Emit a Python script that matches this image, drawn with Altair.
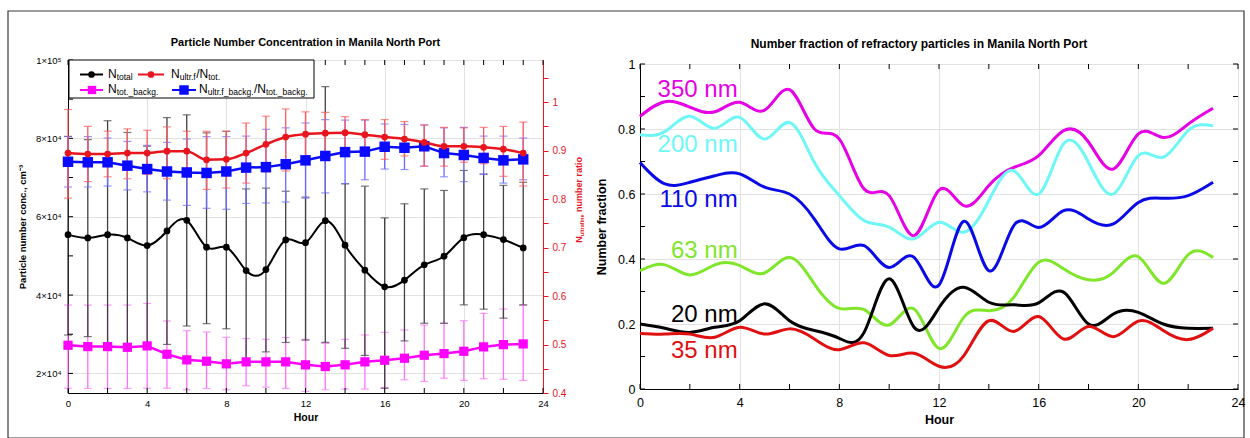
import altair as alt
import pandas as pd

FONT = "Liberation Sans"

# ---------------- data: left panel (hourly means and error-bar ends) ----------------
hours = list(range(24))

n_total = [55420, 54580, 55420, 54580, 52620, 56360, 59080, 52210, 52210, 46260, 46510, 54070,
           53380, 58980, 52720, 46350, 42110, 43810, 47710, 49920, 54660, 55420, 54150, 52030]
n_total_up = [80500, 79700, 84500, 81500, 78000, 85300, 86000, 81400, 81800, 67100, 67300, 66500,
              65000, 93200, 68400, 67800, 59700, 63300, 67100, 66700, 71800, 70900, 68000, 68800]
n_total_lo = [29800, 29400, 26800, 27600, 27700, 27400, 32100, 32700, 31400, 23500, 25500, 27900,
              28500, 27900, 26400, 24600, 16200, 28300, 32800, 32800, 37500, 36400, 34100, 37500]

n_backg = [27180, 26840, 26840, 26670, 27020, 24890, 23460, 23110, 22440, 22950, 22950, 22950,
           22190, 21760, 22190, 22950, 23360, 23870, 24630, 25060, 25650, 26770, 27350, 27530]
n_backg_up = [37450, 37450, 37450, 37450, 37860, 33380, 30910, 30580, 29210, 28880, 28700, 29140,
              28700, 27680, 28700, 29820, 30480, 31090, 32360, 32770, 33460, 35320, 36440, 37360]
n_backg_lo = [16230, 16150, 16150, 16150, 16230, 16230, 15830, 16150, 15830, 16850, 16500, 16150,
              15400, 15830, 16000, 16000, 16400, 18370, 17940, 18780, 18200, 18630, 18500, 18200]

ratio = [0.895, 0.893, 0.893, 0.895, 0.895, 0.899, 0.899, 0.881, 0.882, 0.895, 0.913, 0.928,
         0.934, 0.936, 0.937, 0.933, 0.928, 0.924, 0.917, 0.909, 0.909, 0.907, 0.903, 0.895]
ratio_up = [0.985, 0.950, 0.940, 0.945, 0.942, 0.949, 0.940, 0.940, 0.940, 0.957, 0.971, 0.986,
            0.980, 0.979, 0.970, 0.964, 0.964, 0.960, 0.953, 0.948, 0.947, 0.948, 0.950, 0.959]
ratio_lo = [0.802, 0.836, 0.846, 0.842, 0.851, 0.842, 0.858, 0.820, 0.823, 0.833, 0.856, 0.858,
            0.875, 0.885, 0.892, 0.893, 0.882, 0.889, 0.868, 0.868, 0.876, 0.873, 0.847, 0.827]

ratio_bg = [0.877, 0.876, 0.876, 0.869, 0.862, 0.857, 0.855, 0.854, 0.857, 0.865, 0.866, 0.872,
            0.880, 0.889, 0.897, 0.898, 0.908, 0.906, 0.909, 0.895, 0.891, 0.885, 0.880, 0.882]
ratio_bg_up = [0.929, 0.929, 0.926, 0.919, 0.911, 0.917, 0.924, 0.929, 0.929, 0.930, 0.944, 0.947,
               0.957, 0.964, 0.963, 0.963, 0.955, 0.954, 0.953, 0.947, 0.948, 0.930, 0.930, 0.926]
ratio_bg_lo = [0.825, 0.825, 0.827, 0.819, 0.815, 0.798, 0.787, 0.781, 0.779, 0.791, 0.792, 0.794,
               0.802, 0.813, 0.832, 0.840, 0.862, 0.861, 0.868, 0.846, 0.836, 0.851, 0.833, 0.840]

# ---------------- data: right panel (number fraction by size) ----------------
sizes = ["350 nm", "200 nm", "110 nm", "63 nm", "20 nm", "35 nm"]
size_colors = ["#e600e6", "#6ff7f7", "#0a0ae6", "#80e62a", "#000000", "#e01010"]
f350 = [0.839, 0.884, 0.867, 0.853, 0.882, 0.858, 0.921, 0.800, 0.769, 0.615, 0.595, 0.472,
        0.612, 0.564, 0.626, 0.682, 0.718, 0.795, 0.760, 0.677, 0.785, 0.774, 0.815, 0.864]
f200 = [0.782, 0.792, 0.839, 0.802, 0.836, 0.769, 0.820, 0.697, 0.595, 0.518, 0.498, 0.462,
        0.513, 0.482, 0.580, 0.672, 0.600, 0.754, 0.697, 0.600, 0.718, 0.713, 0.795, 0.810]
f110 = [0.697, 0.631, 0.636, 0.656, 0.662, 0.621, 0.600, 0.523, 0.431, 0.441, 0.374, 0.405,
        0.320, 0.516, 0.364, 0.503, 0.497, 0.549, 0.523, 0.508, 0.574, 0.587, 0.595, 0.636]
f63 = [0.364, 0.382, 0.351, 0.382, 0.380, 0.357, 0.405, 0.323, 0.248, 0.244, 0.197, 0.246,
       0.125, 0.221, 0.241, 0.282, 0.390, 0.370, 0.336, 0.359, 0.407, 0.325, 0.413, 0.405]
f20 = [0.200, 0.187, 0.174, 0.190, 0.210, 0.262, 0.210, 0.180, 0.156, 0.175, 0.339, 0.190,
       0.250, 0.313, 0.267, 0.259, 0.265, 0.298, 0.200, 0.231, 0.236, 0.200, 0.187, 0.187]
f35 = [0.171, 0.169, 0.169, 0.159, 0.190, 0.169, 0.185, 0.154, 0.121, 0.142, 0.103, 0.110,
       0.070, 0.103, 0.210, 0.177, 0.223, 0.154, 0.192, 0.161, 0.209, 0.180, 0.152, 0.187]
size_series = [f350, f200, f110, f63, f20, f35]
# label anchor (right end of text, hour) and baseline value
label_x = [3.92, 3.92, 3.92, 3.92, 3.92, 3.92]
label_y = [0.8975, 0.728, 0.559, 0.402, 0.207, 0.0945]

# ---------------- tables ----------------
left_df = pd.DataFrame({
    "hour": hours, "nt": n_total, "nt_up": n_total_up, "nt_lo": n_total_lo,
    "nb": n_backg, "nb_up": n_backg_up, "nb_lo": n_backg_lo,
    "r": ratio, "r_up": ratio_up, "r_lo": ratio_lo,
    "rb": ratio_bg, "rb_up": ratio_bg_up, "rb_lo": ratio_bg_lo,
})
right_df = pd.DataFrame([
    {"hour": h, "size": s, "frac": v}
    for s, ser in zip(sizes, size_series) for h, v in zip(hours, ser)
])
label_df = pd.DataFrame({"size": sizes, "hour": label_x, "frac": label_y})
one = pd.DataFrame({"k": [0]})

LW, LH = 475, 333
RW, RH = 598, 325

# ---------------- helpers ----------------
REG = {"N": 722, "t": 278, "o": 556, "a": 556, "l": 222, "u": 556, "r": 333, ".": 278, "f": 278,
       "/": 278, "_": 556, "b": 556, "c": 500, "k": 500, "g": 556}
BOLD = {"N": 722, "u": 611, "l": 278, "t": 333, "r": 389, "a": 556, "f": 333, "i": 278, "n": 611,
        "e": 556, " ": 278, "m": 889, "b": 611, "o": 611}


def tw(s, size, table):
    return sum(table.get(c, 556) for c in s) * size / 1000.0


def txt(x, y, s, size, color="black", angle=None, weight="normal", align="left"):
    kw = dict(text=s, fontSize=size, color=color, font=FONT, align=align,
              baseline="alphabetic", fontWeight=weight)
    if angle is not None:
        kw["angle"] = angle
    return alt.Chart(one).mark_text(**kw).encode(x=alt.value(x), y=alt.value(y))


def rich(x0, y0, pieces, main=12, sub=8.5, color="black"):
    out = []
    x = x0
    for s, is_sub in pieces:
        size = sub if is_sub else main
        out.append(txt(x, y0 + (2.5 if is_sub else 0), s, size, color))
        x += tw(s, size, REG)
    return out


# ---------------- left panel ----------------
x_left = alt.X("hour:Q", scale=alt.Scale(domain=[0, 24], nice=False, zero=False),
               axis=alt.Axis(values=list(range(0, 25, 4)), title="Hour", grid=True,
                             gridColor="#e2e2e2", ticks=False, labelFlush=False,
                             labelFontSize=9.5, labelPadding=5, titleFontSize=10.5,
                             titleFontWeight="bold", titlePadding=5, format="d"))
yscale_left = alt.Scale(domain=[15000, 100000], nice=False, zero=False)
yaxis_left = alt.Axis(values=[20000, 40000, 60000, 80000, 100000],
                      labelExpr="datum.value == 100000 ? '1×10⁵' : format(datum.value / 10000, 'd') + '×10⁴'",
                      title="Particle number conc., cm⁻³", grid=True, gridColor="#e2e2e2",
                      ticks=False, labelFontSize=9.5, labelPadding=7, titleFontSize=9.5,
                      titleFontWeight="bold", titlePadding=8, labelOverlap=False)


def yl(field):
    return alt.Y(field, type="quantitative", scale=yscale_left, axis=yaxis_left)


yscale_r = alt.Scale(domain=[0.4, 1.087], nice=False, zero=False)
RED = "#e8141e"
yaxis_r = alt.Axis(orient="right", values=[round(0.4 + 0.05 * i, 2) for i in range(14)],
                   labelExpr="abs(datum.value * 10 - round(datum.value * 10)) < 0.001 ? format(datum.value, '.1~f') : ''",
                   title=None, grid=False, domainColor=RED, tickColor=RED, labelColor=RED,
                   tickSize=5, labelFontSize=10, labelPadding=4, labelOverlap=False)


def yr(field):
    return alt.Y(field, type="quantitative", scale=yscale_r, axis=yaxis_r)


base = alt.Chart(left_df)


def errbars(up, lo, ychan, color):
    bars = base.mark_rule(color=color, strokeWidth=1.3).encode(x=x_left, y=ychan(up), y2=alt.Y2(lo))
    cap1 = base.mark_tick(color=color, thickness=1.2, size=8, orient="horizontal").encode(x=x_left, y=ychan(up))
    cap2 = base.mark_tick(color=color, thickness=1.2, size=8, orient="horizontal").encode(x=x_left, y=ychan(lo))
    return [bars, cap1, cap2]


tick_hours = pd.DataFrame({"hour": list(range(0, 25))})
tick_hours2 = pd.DataFrame({"hour": list(range(0, 25, 2))})
tick_left_v = pd.DataFrame({"v": list(range(20000, 100001, 10000))})

left_core = alt.layer(
    *errbars("nb_up", "nb_lo", yl, "#ff70ff"),
    *errbars("nt_up", "nt_lo", yl, "#404040"),
    base.mark_line(color="#ff00ff", strokeWidth=2.5).encode(x=x_left, y=yl("nb")),
    base.mark_square(color="#ff00ff", size=85, opacity=1).encode(x=x_left, y=yl("nb")),
    base.mark_line(color="black", strokeWidth=2, interpolate="natural").encode(x=x_left, y=yl("nt")),
    base.mark_circle(color="black", size=45, opacity=1).encode(x=x_left, y=yl("nt")),
    alt.Chart(tick_hours).mark_rule(color="black").encode(x=x_left, y=alt.value(0), y2=alt.value(5)),
    alt.Chart(tick_hours2).mark_rule(color="black").encode(x=x_left, y=alt.value(LH), y2=alt.value(LH - 5)),
    alt.Chart(tick_left_v).mark_rule(color="black").encode(y=yl("v"), x=alt.value(0), x2=alt.value(5)),
)

right_core = alt.layer(
    *errbars("rb_up", "rb_lo", yr, "#6a6aff"),
    *errbars("r_up", "r_lo", yr, "#ff5a5a"),
    base.mark_line(color="#0a0aff", strokeWidth=2.5).encode(x=x_left, y=yr("rb")),
    base.mark_square(color="#0a0aff", size=110, opacity=1).encode(x=x_left, y=yr("rb")),
    base.mark_line(color=RED, strokeWidth=2.5, interpolate="monotone").encode(x=x_left, y=yr("r")),
    base.mark_circle(color=RED, size=45, opacity=1).encode(x=x_left, y=yr("r")),
)

# legend (manual, to allow subscripts)
legend = [
    alt.Chart(one).mark_rect(fill="white", stroke="black", strokeWidth=1).encode(
        x=alt.value(1), x2=alt.value(246), y=alt.value(0), y2=alt.value(38)),
    alt.Chart(one).mark_rule(color="black", strokeWidth=2).encode(x=alt.value(12), x2=alt.value(35), y=alt.value(14.5)),
    alt.Chart(one).mark_circle(color="black", size=45, opacity=1).encode(x=alt.value(23.5), y=alt.value(14.5)),
    alt.Chart(one).mark_rule(color=RED, strokeWidth=2).encode(x=alt.value(70), x2=alt.value(96), y=alt.value(14.5)),
    alt.Chart(one).mark_circle(color=RED, size=45, opacity=1).encode(x=alt.value(83), y=alt.value(14.5)),
    alt.Chart(one).mark_rule(color="#ff00ff", strokeWidth=2).encode(x=alt.value(12), x2=alt.value(35), y=alt.value(30)),
    alt.Chart(one).mark_square(color="#ff00ff", size=70, opacity=1).encode(x=alt.value(24), y=alt.value(30)),
    alt.Chart(one).mark_rule(color="#0a0aff", strokeWidth=2).encode(x=alt.value(104), x2=alt.value(128), y=alt.value(30)),
    alt.Chart(one).mark_square(color="#0a0aff", size=90, opacity=1).encode(x=alt.value(116), y=alt.value(30)),
]
legend += rich(40, 17.7, [("N", False), ("total", True)])
legend += rich(103, 17.7, [("N", False), ("ultr.f", True), ("/N", False), ("tot.", True)])
legend += rich(40, 32.7, [("N", False), ("tot._backg.", True)])
legend += rich(131, 32.7, [("N", False), ("ultr.f_backg.", True), ("/N", False), ("tot._backg.", True)])

# red right-axis title, rotated, with subscript
rx, ry = 514, 182.7
red_title = [txt(rx, ry, "N", 9, RED, angle=270, weight="bold")]
ry2 = ry - tw("N", 9, BOLD)
red_title.append(txt(rx + 2, ry2, "ultrafine", 5.5, RED, angle=270, weight="bold"))
ry3 = ry2 - tw("ultrafine", 5.5, BOLD) - tw(" ", 9, BOLD)
red_title.append(txt(rx, ry3, "number ratio", 9, RED, angle=270, weight="bold"))

frame = alt.Chart(one).mark_rect(fill="white", fillOpacity=0, stroke="#3a3a3a", strokeWidth=1.2).encode(
    x=alt.value(-60), x2=alt.value(1176), y=alt.value(-49), y2=alt.value(378))

left_title = txt(LW / 2, -14, "Particle Number Concentration in Manila North Port", 11,
                 weight="bold", align="center")

left_panel = alt.layer(
    frame, left_core, right_core, *legend, *red_title, left_title
).resolve_scale(y="independent").properties(width=LW, height=LH)

# ---------------- right panel ----------------
x_right = alt.X("hour:Q", scale=alt.Scale(domain=[0, 24], nice=False, zero=False),
                axis=alt.Axis(values=list(range(0, 25, 4)), title="Hour", grid=True,
                              gridColor="#e2e2e2", ticks=False, labelFlush=False,
                              labelFontSize=12.5, labelPadding=7, titleFontSize=12.5,
                              titleFontWeight="bold", titlePadding=5, format="d"))
yscale_right = alt.Scale(domain=[0, 1], nice=False, zero=False)
yaxis_right = alt.Axis(values=[0, 0.2, 0.4, 0.6, 0.8, 1.0], format="~g", title="Number fraction",
                       grid=True, gridColor="#e2e2e2", ticks=False, labelFontSize=12.5,
                       labelPadding=5, titleFontSize=12.5, titleFontWeight="bold", titlePadding=9)
y_right = alt.Y("frac:Q", scale=yscale_right, axis=yaxis_right)
color_size = alt.Color("size:N", scale=alt.Scale(domain=sizes, range=size_colors), legend=None)

tick_frac = pd.DataFrame({"frac": [round(0.1 * i, 1) for i in range(11)]})

right_panel = alt.layer(
    alt.Chart(right_df).mark_line(strokeWidth=3, interpolate="natural").encode(
        x=x_right, y=y_right, color=color_size, detail="size:N"),
    alt.Chart(label_df).mark_text(fontSize=24, font=FONT, align="right", baseline="alphabetic").encode(
        x=x_right, y=y_right, text="size:N", color=color_size),
    alt.Chart(tick_hours2).mark_rule(color="black").encode(x=x_right, y=alt.value(0), y2=alt.value(5)),
    alt.Chart(tick_hours2).mark_rule(color="black").encode(x=x_right, y=alt.value(RH), y2=alt.value(RH - 5)),
    alt.Chart(tick_frac).mark_rule(color="black").encode(y=y_right, x=alt.value(0), x2=alt.value(5)),
    alt.Chart(tick_frac).mark_rule(color="black").encode(y=y_right, x=alt.value(RW), x2=alt.value(RW - 5)),
    txt(279, -16.5, "Number fraction of refractory particles in Manila North Port", 12,
        weight="bold", align="center"),
).properties(width=RW, height=RH)

chart = alt.hconcat(left_panel, right_panel, spacing=97, bounds="flush", center=True).properties(
    padding={"left": 6, "top": 9, "right": 0, "bottom": 0},
    background="white",
).configure_view(stroke="black", strokeWidth=1).configure_axis(
    labelFont=FONT, titleFont=FONT, domainColor="black", labelColor="black", titleColor="black"
).configure_text(font=FONT)

chart.save("out.html", embed_options={"renderer": "svg", "actions": False})
